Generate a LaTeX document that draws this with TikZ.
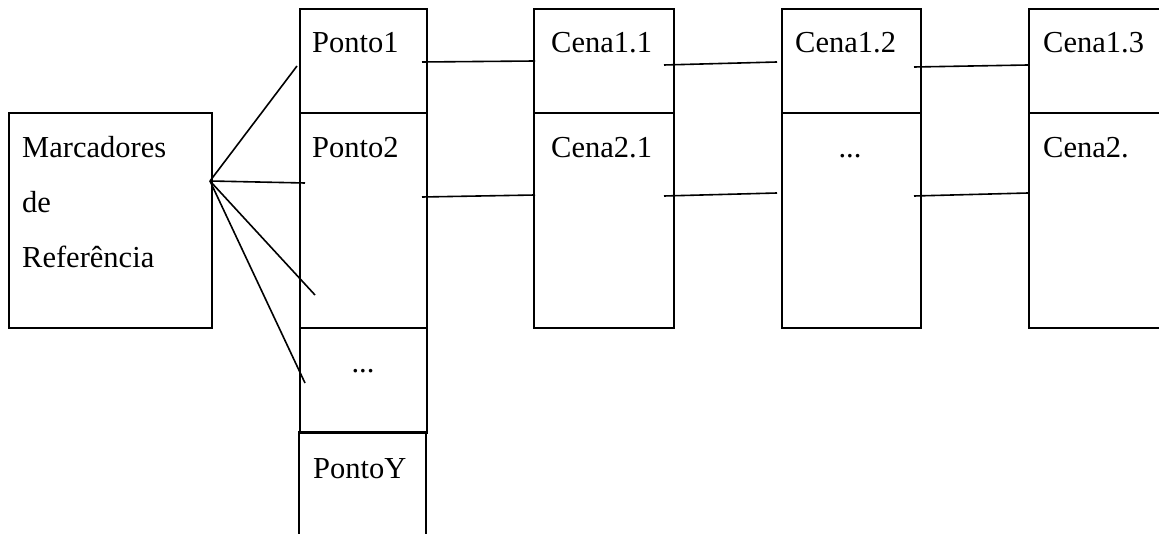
\documentclass[tikz,border=0pt]{standalone}
\usepackage{fontspec}
\setmainfont{Liberation Serif}
\usetikzlibrary{calc}
\begin{document}
\begin{tikzpicture}[x=1pt,y=-1pt,
  cell/.style={draw, line width=2.4pt, inner sep=0pt, anchor=north west},
  lbl/.style={anchor=base west, inner sep=0pt, font=\fontsize{30.5}{36}\selectfont},
  clbl/.style={anchor=base, inner sep=0pt, font=\fontsize{30.5}{36}\selectfont},
  conn/.style={draw, line width=1.6pt}]
\useasboundingbox (0,0) rectangle (1159,534);
\clip (0,0) rectangle (1159,534);
% Marcadores box
\node[cell, minimum width=203pt, minimum height=215pt] (m) at (8,112) {};
\node[lbl] (mt1) at (22,158) {Marcadores};
\node[lbl] (mt2) at (22,213) {de};
\node[lbl] (mt3) at (22,268) {Referência};
% Ponto column
\node[cell, minimum width=127pt, minimum height=104pt] (p1) at (299,8) {};
\node[cell, minimum width=127pt, minimum height=215pt] (p2) at (299,112) {};
\node[cell, minimum width=127pt, minimum height=105pt] (pd) at (299,327) {};
\draw[line width=2.4pt] (299,545) -- (299,432) -- (426,432) -- (426,545);
\node[lbl] (tp1) at (312,53) {Ponto1};
\node[lbl] (tp2) at (312,158) {Ponto2};
\node[clbl] (tpd) at (363,373) {...};
\node[lbl] (tpy) at (313,478) {PontoY};
% Cena columns
\node[cell, minimum width=140pt, minimum height=104pt] (c11) at (533,8) {};
\node[cell, minimum width=140pt, minimum height=215pt] (c21) at (533,112) {};
\node[cell, minimum width=139pt, minimum height=104pt] (c12) at (781,8) {};
\node[cell, minimum width=139pt, minimum height=215pt] (c22) at (781,112) {};
\node[cell, minimum width=160pt, minimum height=104pt] (c13) at (1028,8) {};
\node[cell, minimum width=160pt, minimum height=215pt] (c23) at (1028,112) {};
\node[lbl] (tc11) at (551,53) {Cena1.1};
\node[lbl] (tc21) at (551,158) {Cena2.1};
\node[lbl] (tc12) at (795,53) {Cena1.2};
\node[clbl] (tc22) at (850,158) {...};
\node[lbl] (tc13) at (1043,53) {Cena1.3};
\node[lbl] (tc23) at (1043,158) {Cena2.};
% fan from Marcadores
\coordinate (fan) at (210,181);
\coordinate (f1) at (297,66);
\coordinate (f2) at (305,183);
\coordinate (f3) at (315,295);
\coordinate (f4) at (305,383);
\draw[conn] (fan) -- (f1);
\draw[conn] (fan) -- (f2);
\draw[conn] (fan) -- (f3);
\draw[conn] (fan) -- (f4);
% row connectors
\coordinate (r1a) at (422,62);  \coordinate (r1b) at (535,61);
\coordinate (r1c) at (664,65);  \coordinate (r1d) at (777,62);
\coordinate (r1e) at (914,67);  \coordinate (r1f) at (1028,65);
\coordinate (r2a) at (422,197); \coordinate (r2b) at (535,195);
\coordinate (r2c) at (664,196); \coordinate (r2d) at (777,193);
\coordinate (r2e) at (914,196); \coordinate (r2f) at (1028,193);
\draw[conn] (r1a) -- (r1b);
\draw[conn] (r1c) -- (r1d);
\draw[conn] (r1e) -- (r1f);
\draw[conn] (r2a) -- (r2b);
\draw[conn] (r2c) -- (r2d);
\draw[conn] (r2e) -- (r2f);
\end{tikzpicture}
\end{document}
